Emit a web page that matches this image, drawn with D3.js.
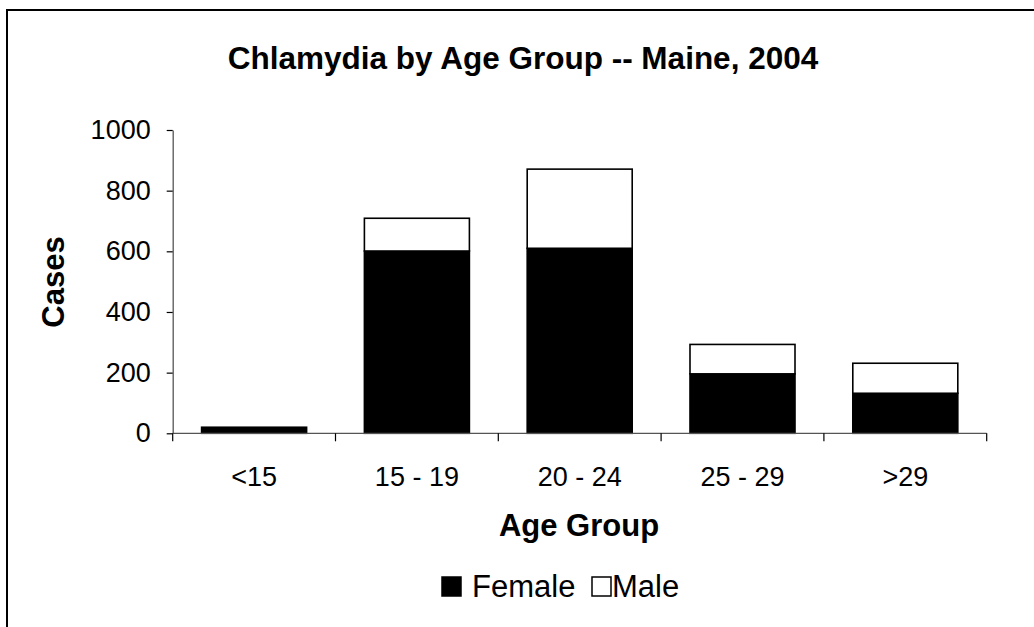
<!DOCTYPE html>
<html>
<head>
<meta charset="utf-8">
<script src="https://cdn.jsdelivr.net/npm/d3@7"></script>
<style>
  html, body { margin: 0; padding: 0; background: #fff; }
  svg { display: block; }
  text { font-family: "Liberation Sans", Arial, sans-serif; fill: #000; }
</style>
</head>
<body>
<svg id="chart" width="1034" height="627"></svg>
<script>
// Reported chlamydia cases, Maine 2004
const ageGroups = ["<15", "15 - 19", "20 - 24", "25 - 29", ">29"];
const femaleCases = [20, 601, 610, 196, 132];
const maleCases = [0, 108, 261, 97, 99];
const yTicks = [0, 200, 400, 600, 800, 1000];
const seriesNames = ["Female", "Male"];

const svg = d3.select("#chart");
const W = 1034, H = 627;

// outer frame
svg.append("rect")
  .attr("x", 7).attr("y", 10)
  .attr("width", W + 10).attr("height", H + 10)
  .attr("fill", "none").attr("stroke", "#000").attr("stroke-width", 2);

const plot = { left: 172.7, right: 986.7, top: 130, bottom: 433.3 };

const x = d3.scaleBand()
  .domain(ageGroups)
  .range([plot.left, plot.right])
  .paddingInner(0.355)
  .paddingOuter(0.1775);

const y = d3.scaleLinear().domain([0, 1000]).range([plot.bottom, plot.top]);

const rows = ageGroups.map((g, i) => ({ group: g, Female: femaleCases[i], Male: maleCases[i] }));
const stacked = d3.stack().keys(seriesNames)(rows);
const fills = { Female: "#000", Male: "#fff" };

// stacked bars
svg.append("g").selectAll("g")
  .data(stacked).join("g")
  .attr("fill", d => fills[d.key])
  .selectAll("rect")
  .data(d => d.filter(s => s[1] > s[0]))
  .join("rect")
  .attr("x", d => x(d.data.group))
  .attr("y", d => y(d[1]))
  .attr("width", x.bandwidth())
  .attr("height", d => y(d[0]) - y(d[1]))
  .attr("stroke", "#000")
  .attr("stroke-width", 1.6);

// y axis
const yAxis = svg.append("g")
  .attr("transform", `translate(${plot.left},0)`)
  .call(d3.axisLeft(y).tickValues(yTicks).tickFormat(d3.format("d"))
    .tickSize(6).tickPadding(16).tickSizeOuter(0));
yAxis.select(".domain").attr("stroke", "#555").attr("stroke-width", 1.3);
yAxis.selectAll(".tick line").attr("stroke", "#000").attr("stroke-width", 1.2);
yAxis.selectAll(".tick text")
  .style("font-family", "'Liberation Sans', Arial, sans-serif")
  .style("font-size", "27px").attr("fill", "#000");

// x axis: ticks mark the category boundaries
const boundaries = ageGroups.map(g => x(g) - x.step() * x.paddingInner() / 2 + x.step())
  .concat([plot.left]);
const xAxisG = svg.append("g");
xAxisG.append("line")
  .attr("x1", plot.left).attr("x2", plot.right)
  .attr("y1", plot.bottom).attr("y2", plot.bottom)
  .attr("stroke", "#555").attr("stroke-width", 1.3);
xAxisG.selectAll("line.tk")
  .data(boundaries).join("line").attr("class", "tk")
  .attr("x1", d => d).attr("x2", d => d)
  .attr("y1", plot.bottom).attr("y2", plot.bottom + 8)
  .attr("stroke", "#000").attr("stroke-width", 1.2);
xAxisG.selectAll("text")
  .data(ageGroups).join("text")
  .attr("x", d => x(d) + x.bandwidth() / 2)
  .attr("y", 486)
  .attr("text-anchor", "middle")
  .style("font-size", "27px")
  .text(d => d);

// titles
svg.append("text")
  .attr("x", 523).attr("y", 69)
  .attr("text-anchor", "middle")
  .style("font-size", "31.5px").style("font-weight", "bold")
  .text("Chlamydia by Age Group -- Maine, 2004");

svg.append("text")
  .attr("x", 579).attr("y", 536)
  .attr("text-anchor", "middle")
  .style("font-size", "31px").style("font-weight", "bold")
  .text("Age Group");

svg.append("text")
  .attr("transform", "translate(64,282) rotate(-90)")
  .attr("text-anchor", "middle")
  .style("font-size", "31px").style("font-weight", "bold")
  .text("Cases");

// legend
const legend = svg.append("g");
const legendX = [442, 592];
const labelGap = [30, 20];
seriesNames.forEach((name, i) => {
  legend.append("rect")
    .attr("x", legendX[i]).attr("y", 577)
    .attr("width", 19).attr("height", 19)
    .attr("fill", fills[name]).attr("stroke", "#000").attr("stroke-width", 1.5);
  legend.append("text")
    .attr("x", legendX[i] + labelGap[i]).attr("y", 597)
    .style("font-size", "31px")
    .text(name);
});
</script>
</body>
</html>
